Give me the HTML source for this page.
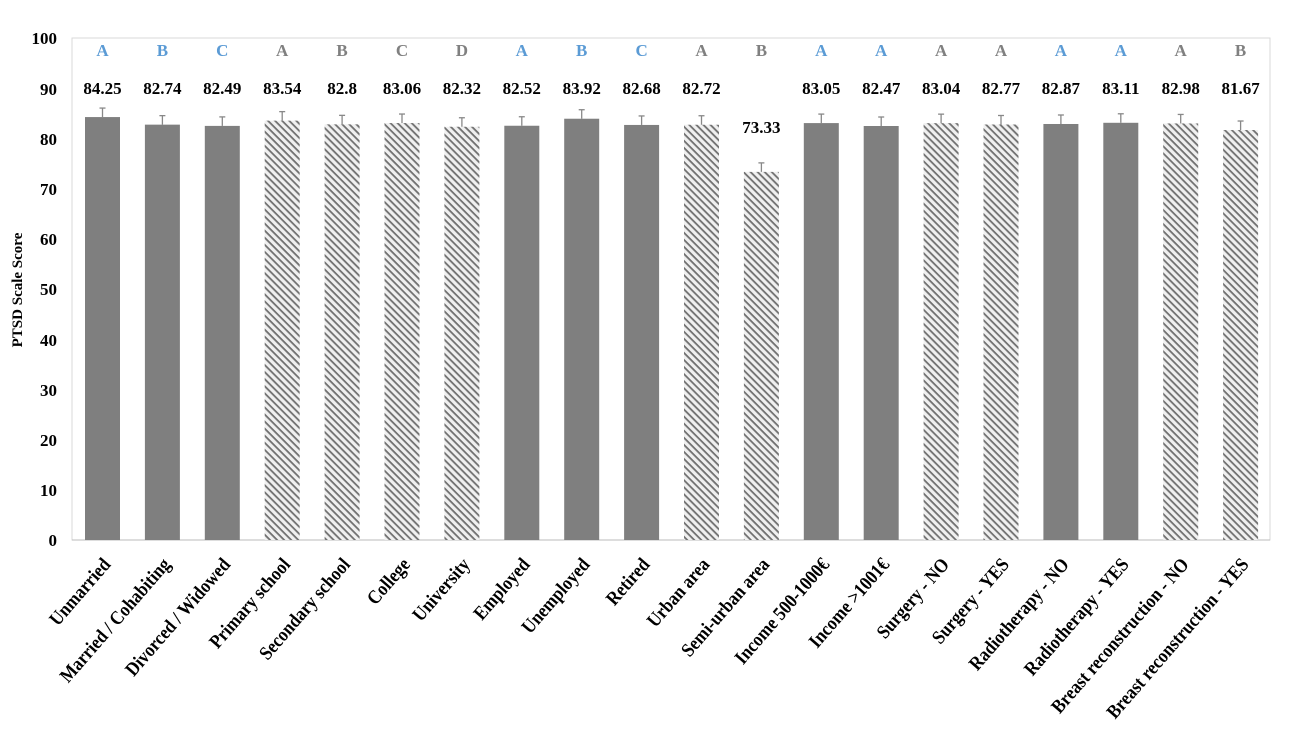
<!DOCTYPE html>
<html><head><style>body{margin:0;background:#fff}</style></head><body>
<svg width="1305" height="741" xmlns="http://www.w3.org/2000/svg" font-family="Liberation Serif, serif" font-weight="bold">
<defs>
<pattern id="h" patternUnits="userSpaceOnUse" width="5" height="5" patternTransform="rotate(45)">
<rect width="5" height="5" fill="#f0f0f0"/><rect width="5" height="1.8" fill="#707070"/>
</pattern>
</defs>
<rect x="72" y="38" width="1198" height="502" fill="none" stroke="#d9d9d9"/>
<g font-size="17" text-anchor="end" fill="#000">
<text x="57" y="44">100</text><text x="57" y="95">90</text><text x="57" y="145">80</text><text x="57" y="195">70</text><text x="57" y="245">60</text><text x="57" y="295">50</text><text x="57" y="346">40</text><text x="57" y="396">30</text><text x="57" y="446">20</text><text x="57" y="496">10</text><text x="57" y="546">0</text>
</g>
<text transform="translate(22,290) rotate(-90)" font-size="15" text-anchor="middle">PTSD Scale Score</text>
<line x1="72" y1="540" x2="1270" y2="540" stroke="#bbb"/>
<g id="bars"></g>
</svg>
<script>
const d=[["Unmarried",84.25,"A",1,0],["Married / Cohabiting",82.74,"B",1,0],["Divorced / Widowed",82.49,"C",1,0],["Primary school",83.54,"A",0,0],["Secondary school",82.8,"B",0,0],["College",83.06,"C",0,0],["University",82.32,"D",0,0],["Employed",82.52,"A",1,0],["Unemployed",83.92,"B",1,0],["Retired",82.68,"C",1,0],["Urban area",82.72,"A",0,0],["Semi-urban area",73.33,"B",0,1],["Income 500-1000€",83.05,"A",1,0],["Income >1001€",82.47,"A",1,0],["Surgery - NO",83.04,"A",0,0],["Surgery - YES",82.77,"A",0,0],["Radiotherapy - NO",82.87,"A",1,0],["Radiotherapy - YES",83.11,"A",1,0],["Breast reconstruction - NO",82.98,"A",0,0],["Breast reconstruction - YES",81.67,"B",0,0]];
let s="";const y=v=>540-v*5.02;
d.forEach((r,i)=>{const c=102.5+i*59.9;const t=y(r[1]);
s+=`<rect x="${c-17.5}" y="${t}" width="35" height="${540-t}" fill="${r[3]?'#7f7f7f':'url(#h)'}"/>`;
s+=`<line x1="${c}" y1="${t}" x2="${c}" y2="${t-9}" stroke="#888" stroke-width="1.3"/><line x1="${c-3}" y1="${t-9}" x2="${c+3}" y2="${t-9}" stroke="#888" stroke-width="1.3"/>`;
s+=`<text x="${c}" y="${r[4]?133:94}" font-size="17" text-anchor="middle">${r[1]}</text>`;
s+=`<text x="${c}" y="56" font-size="17" text-anchor="middle" fill="${r[3]?'#5b9bd5':'#808080'}">${r[2]}</text>`;
s+=`<text transform="translate(${c+9},565) rotate(-49) scale(0.88,1)" font-size="19.5" text-anchor="end">${r[0].replace('>','&gt;')}</text>`;});
document.getElementById("bars").innerHTML=s;
</script>
</body></html>
